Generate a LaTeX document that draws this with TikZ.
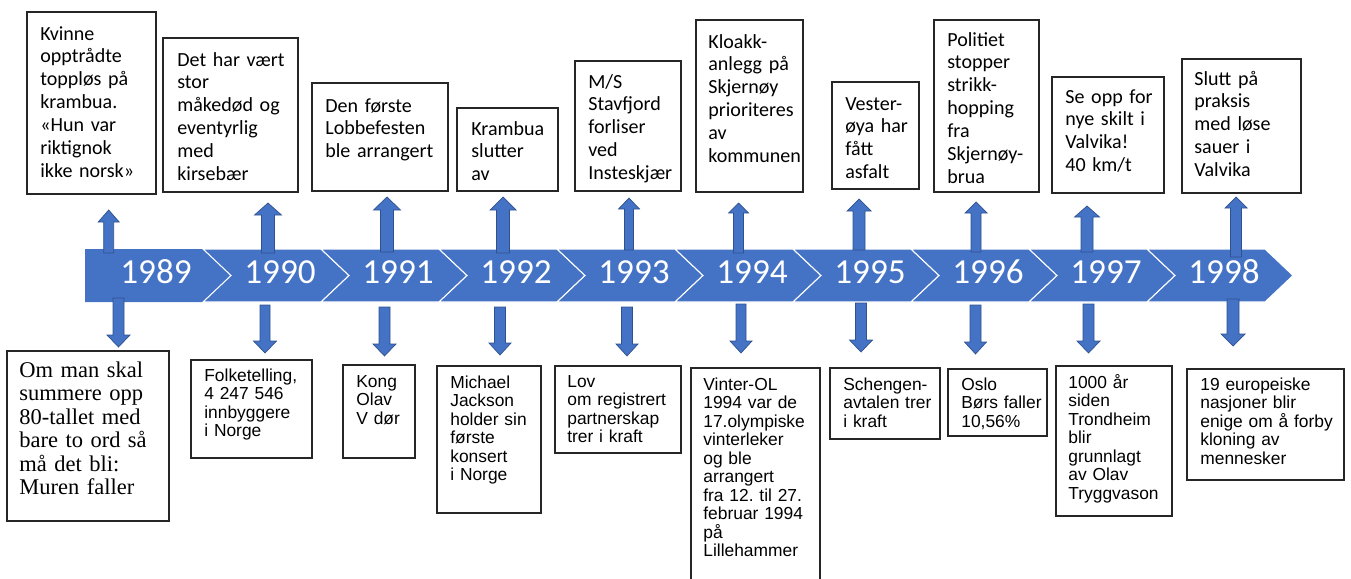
\documentclass[tikz,border=0pt]{standalone}
\usepackage{fontspec}
\newfontfamily\calfont{Carlito}
\newfontfamily\arialfont{Liberation Sans}
\newfontfamily\timesfont{Liberation Serif}
\usetikzlibrary{positioning}
\definecolor{tlblue}{HTML}{4472C4}
\definecolor{tledge}{HTML}{2F528F}
\frenchspacing
\tikzset{
  evbox/.style={draw=black!85, line width=0.6pt},
  toptext/.style={anchor=base west, inner sep=0pt, text width=3.2cm, align=left,
    font=\calfont\fontsize{11.4}{13}\selectfont},
  bottext/.style={anchor=base west, inner sep=0pt, text width=3.2cm, align=left,
    font=\arialfont\fontsize{9.9}{10.5}\selectfont},
  yeartext/.style={anchor=base, text=white, inner sep=0pt,
    font=\calfont\fontsize{20}{24}\selectfont},
  blockarrow/.style={fill=tlblue, draw=tledge, line width=0.4pt}
}

\begin{document}
\begin{tikzpicture}[x=0.02cm, y=-0.02cm]
  \useasboundingbox (0,0) rectangle (1351,578);
  \clip (0,0) rectangle (1351,578);

  % timeline band
  \fill[tlblue] (85,249) -- (203,249) -- (231,275.5) -- (203,302) -- (85,302) -- cycle;
  \foreach \k in {1,...,9} {
    \pgfmathsetmacro\xl{203+118*(\k-1)}
    \pgfmathsetmacro\xr{\xl+118}
    \draw[fill=tlblue, draw=white, line width=0.6pt] (\xl,249) -- (\xr,249) -- ({\xr+28},275.5)
      -- (\xr,302) -- (\xl,302) -- ({\xl+28},275.5) -- cycle;
  }
  \foreach \yr/\xc in {1989/156,1990/280,1991/398,1992/516,1993/634,1994/752,1995/870,1996/988,1997/1106,1998/1224}
    \node[yeartext] (y\yr) at (\xc,283) {\yr};

  % arrows up
  \foreach \cx/\tip/\hb/\bot/\sw/\hw in {108.7/210/222/253/5/10.5, 268/203/215/253/6.5/13.5,
      387/197/210/252/6.5/13.5, 503/197/210/253/6.5/13, 629/198/209/250/4.5/10.5,
      738.5/203/213/253/5/10, 859/199/211/250/6/12, 976/202/213/252/5/11,
      1087/206/217/252/6/12.5, 1236/197/208/257/5.5/11}
    \draw[blockarrow] ({\cx-\sw},\bot) -- ({\cx-\sw},\hb) -- ({\cx-\hw},\hb) -- (\cx,\tip)
      -- ({\cx+\hw},\hb) -- ({\cx+\sw},\hb) -- ({\cx+\sw},\bot) -- cycle;

  % arrows down
  \foreach \cx/\top/\tip/\sw/\hw in {118.5/298/347/5.5/11.5, 265/305/353/5/11.5,
      384.5/307/356/5.5/11.5, 500/307/355/5.5/11, 627/307/356/5.5/11,
      741/304/353/5/11, 861/303/352/5.5/11.5, 975.5/305/354/5.5/11,
      1088.5/304/353/5.5/11.5, 1233/299/346/6/12}
    \draw[blockarrow] ({\cx-\sw},\top) -- ({\cx-\sw},{\tip-12}) -- ({\cx-\hw},{\tip-12}) -- (\cx,\tip)
      -- ({\cx+\hw},{\tip-12}) -- ({\cx+\sw},{\tip-12}) -- ({\cx+\sw},\top) -- cycle;

  % boxes above
  \draw[evbox] (27,12) rectangle (156,194);
  \node[toptext] (t89) at (40,40) {Kvinne\\opptrådte\\toppløs på\\krambua.\\«Hun var\\riktignok\\ikke norsk»};
  \draw[evbox] (163,38) rectangle (298,192);
  \node[toptext] (t90) at (177,66) {Det har vært\\stor\\måkedød og\\eventyrlig\\med\\kirsebær};
  \draw[evbox] (312,83) rectangle (448,191);
  \node[toptext] (t91) at (325,112) {Den første\\Lobbefesten\\ble arrangert};
  \draw[evbox] (457,108) rectangle (558,191);
  \node[toptext] (t92) at (471,135) {Krambua\\slutter\\av};
  \draw[evbox] (575,61) rectangle (681,191);
  \node[toptext] (t93) at (588,88) {M/S\\Stavfjord\\forliser\\ved\\Insteskjær};
  \draw[evbox] (696,20) rectangle (803,192);
  \node[toptext] (t94) at (708,48) {Kloakk-\\anlegg på\\Skjernøy\\prioriteres\\av\\kommunen};
  \draw[evbox] (832,82) rectangle (919,189);
  \node[toptext] (t95) at (845,110) {Vester-\\øya har\\fått\\asfalt};
  \draw[evbox] (934,20) rectangle (1039,192);
  \node[toptext] (t96) at (947,46) {Politiet\\stopper\\strikk-\\hopping\\fra\\Skjernøy-\\brua};
  \draw[evbox] (1052,77) rectangle (1164,193);
  \node[toptext] (t97) at (1065,103) {Se opp for\\nye skilt i\\Valvika!\\40 km/t};
  \draw[evbox] (1182,59) rectangle (1301,193);
  \node[toptext] (t98) at (1194,85) {Slutt på\\praksis\\med løse\\sauer i\\Valvika};

  % boxes below
  \draw[evbox] (7,351) rectangle (169,521);
  \node[bottext, font=\timesfont\fontsize{12.8}{13.4}\selectfont] (b89) at (19,377)
    {Om man skal\\summere opp\\80-tallet med\\bare to ord så\\må det bli:\\Muren faller};
  \draw[evbox] (191,360) rectangle (312,458);
  \node[bottext] (b90) at (204,381.5) {Folketelling,\\4 247 546\\innbyggere\\i Norge};
  \draw[evbox] (343,365) rectangle (415,458);
  \node[bottext] (b91) at (356,387.5) {Kong\\Olav\\V dør};
  \draw[evbox] (437,366) rectangle (541,513);
  \node[bottext] (b92) at (450,388.5) {Michael\\Jackson\\holder sin\\første\\konsert\\i Norge};
  \draw[evbox] (555,366) rectangle (681,453);
  \node[bottext] (b93) at (567,387.5) {Lov\\om registrert\\partnerskap\\trer i kraft};
  \draw[evbox] (691,368) rectangle (820,590);
  \node[bottext] (b94) at (703,390.5) {Vinter-OL\\1994 var de\\17.olympiske\\vinterleker\\og ble\\arrangert\\fra 12. til 27.\\februar 1994\\på\\Lillehammer};
  \draw[evbox] (830,368) rectangle (940,439);
  \node[bottext] (b95) at (843,390.5) {Schengen-\\avtalen trer\\i kraft};
  \draw[evbox] (948,369) rectangle (1047,436);
  \node[bottext] (b96) at (961,390.5) {Oslo\\Børs faller\\10,56\%};
  \draw[evbox] (1056,366) rectangle (1172,516);
  \node[bottext] (b97) at (1068,388.5) {1000 år\\siden\\Trondheim\\blir\\grunnlagt\\av Olav\\Tryggvason};
  \draw[evbox] (1187,369) rectangle (1344,480);
  \node[bottext] (b98) at (1200,390.5) {19 europeiske\\nasjoner blir\\enige om å forby\\kloning av\\mennesker};
\end{tikzpicture}
\end{document}
